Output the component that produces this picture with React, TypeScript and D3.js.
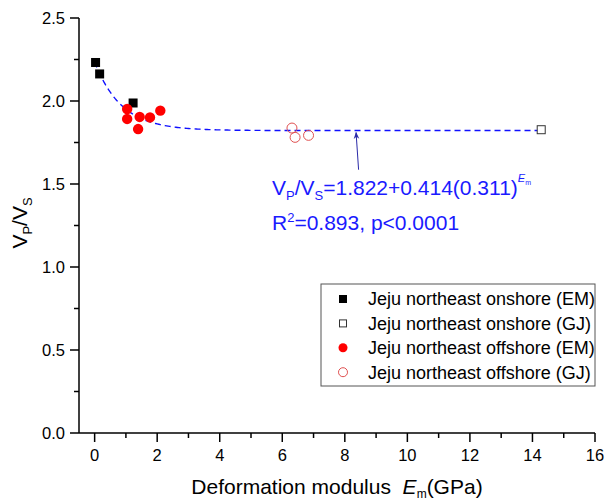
import React from "react";
import * as d3 from "d3";

const onshoreEM = [
  { x: 0.03, y: 2.232 },
  { x: 0.16, y: 2.163 },
  { x: 1.23, y: 1.988 },
];
const onshoreGJ = [{ x: 14.28, y: 1.827 }];
const offshoreEM = [
  { x: 1.04, y: 1.952 },
  { x: 1.04, y: 1.892 },
  { x: 1.44, y: 1.904 },
  { x: 1.39, y: 1.831 },
  { x: 1.77, y: 1.901 },
  { x: 2.1, y: 1.942 },
];
const offshoreGJ = [
  { x: 6.31, y: 1.837 },
  { x: 6.41, y: 1.781 },
  { x: 6.84, y: 1.793 },
];
const fitA = 1.822;
const fitB = 0.414;
const fitC = 0.311;
const fitRange = [0.0, 14.28];
const arrowFrom = { x: 8.44, y: 1.586 };
const arrowTo = { x: 8.36, y: 1.81 };
const xMajor = [0, 2, 4, 6, 8, 10, 12, 14, 16];
const yMajor = [0, 0.5, 1.0, 1.5, 2.0, 2.5];
const legendLabels = [
  "Jeju northeast onshore (EM)",
  "Jeju northeast onshore (GJ)",
  "Jeju northeast offshore (EM)",
  "Jeju northeast offshore (GJ)",
];

const W = 606;
const H = 498;
const left = 79;
const right = 595;
const top = 18;
const bottom = 433;
const FONT = "Arial, 'Liberation Sans', sans-serif";

export default function App() {
  const x = d3.scaleLinear().domain([-0.5, 16]).range([left, right]);
  const y = d3.scaleLinear().domain([0, 2.5]).range([bottom, top]);

  const xMinor = d3.range(0, 16.01, 1).filter((v) => !xMajor.includes(v));
  const yMinor = d3.range(0, 2.51, 0.25).filter((v) => !yMajor.some((m) => Math.abs(m - v) < 1e-6));

  const fitPts = d3.range(fitRange[0], fitRange[1] + 0.001, 0.05).map((v) => ({
    x: v,
    y: fitA + fitB * Math.pow(fitC, v),
  }));
  const line = d3
    .line<{ x: number; y: number }>()
    .x((d) => x(d.x))
    .y((d) => y(d.y));

  const legX = 321;
  const legY = 284;
  const legW = 274;
  const legH = 102;
  const rowY = (i: number) => legY + 15 + i * 24.4;
  const symX = legX + 22;

  return (
    <svg
      width={W}
      height={H}
      style={{ position: "absolute", left: 0, top: 0, background: "#fff" }}
      fontFamily={FONT}
    >
      <rect x={0} y={0} width={W} height={H} fill="#fff" />
      {/* axes */}
      <line x1={left} y1={top} x2={left} y2={bottom} stroke="#000" strokeWidth={1.5} />
      <line x1={left} y1={bottom} x2={right} y2={bottom} stroke="#000" strokeWidth={1.5} />
      {yMajor.map((v) => (
        <g key={"ym" + v}>
          <line x1={left - 9} x2={left} y1={y(v)} y2={y(v)} stroke="#000" strokeWidth={1.5} />
          <text x={left - 14} y={y(v)} dy="0.36em" textAnchor="end" fontSize={16.5}>
            {v.toFixed(1)}
          </text>
        </g>
      ))}
      {yMinor.map((v) => (
        <line key={"yn" + v} x1={left - 5} x2={left} y1={y(v)} y2={y(v)} stroke="#000" strokeWidth={1.5} />
      ))}
      {xMajor.map((v) => (
        <g key={"xm" + v}>
          <line x1={x(v)} x2={x(v)} y1={bottom} y2={bottom + 9} stroke="#000" strokeWidth={1.5} />
          <text x={x(v)} y={bottom + 28} textAnchor="middle" fontSize={16.5}>
            {v}
          </text>
        </g>
      ))}
      {xMinor.map((v) => (
        <line key={"xn" + v} x1={x(v)} x2={x(v)} y1={bottom} y2={bottom + 5} stroke="#000" strokeWidth={1.5} />
      ))}

      {/* axis titles */}
      <text x={(left + right) / 2} y={494} fontSize={21} textAnchor="middle">
        {"Deformation modulus\u00a0\u00a0"}
        <tspan fontStyle="italic">E</tspan>
        <tspan fontSize={12} dy={4}>m</tspan>
        <tspan dy={-4}>(GPa)</tspan>
      </text>
      <text transform={`translate(27,${223}) rotate(-90)`} textAnchor="middle" fontSize={21}>
        V<tspan fontSize={13} dy={5}>P</tspan>
        <tspan dy={-5}>/V</tspan>
        <tspan fontSize={13} dy={5}>S</tspan>
      </text>

      {/* fit curve */}
      <path
        d={line(fitPts) || ""}
        fill="none"
        stroke="#1010ff"
        strokeWidth={1.4}
        strokeDasharray="6,4"
      />

      {/* arrow */}
      <defs>
        <marker id="ah" viewBox="0 0 10 10" refX="9" refY="5" markerWidth="7" markerHeight="9" orient="auto-start-reverse">
          <path d="M0,1 L10,5 L0,9 L3,5 Z" fill="#2a2aa8" />
        </marker>
      </defs>
      <line
        x1={x(arrowFrom.x)}
        y1={y(arrowFrom.y)}
        x2={x(arrowTo.x)}
        y2={y(arrowTo.y)}
        stroke="#2a2aa8"
        strokeWidth={1}
        markerEnd="url(#ah)"
      />

      {/* equation */}
      <text x={272} y={195} fontSize={21} fill="#1a1aff">
        V<tspan fontSize={13} dy={5}>P</tspan>
        <tspan dy={-5}>/V</tspan>
        <tspan fontSize={13} dy={5}>S</tspan>
        <tspan dy={-5}>=1.822+0.414(0.311)</tspan>
        <tspan fontSize={11} dy={-13} fontStyle="italic">E</tspan>
        <tspan fontSize={7} dy={3}>m</tspan>
      </text>
      <text x={272} y={230} fontSize={21} fill="#1a1aff">
        R<tspan fontSize={13} dy={-8}>2</tspan>
        <tspan dy={8}>=0.893, p&lt;0.0001</tspan>
      </text>

      {/* data */}
      {offshoreGJ.map((d, i) => (
        <circle key={"og" + i} cx={x(d.x)} cy={y(d.y)} r={5} fill="none" stroke="#e05050" strokeWidth={1} />
      ))}
      {onshoreGJ.map((d, i) => (
        <rect key={"ng" + i} x={x(d.x) - 4} y={y(d.y) - 4} width={8} height={8} fill="#fff" stroke="#333" strokeWidth={1} />
      ))}
      {onshoreEM.map((d, i) => (
        <rect key={"ne" + i} x={x(d.x) - 4.5} y={y(d.y) - 4.5} width={9} height={9} fill="#000" />
      ))}
      {offshoreEM.map((d, i) => (
        <circle key={"oe" + i} cx={x(d.x)} cy={y(d.y)} r={5.2} fill="#ff0000" />
      ))}

      {/* legend */}
      <rect x={legX} y={legY} width={legW} height={legH} fill="#fff" stroke="#555" strokeWidth={1} />
      <rect x={symX - 4} y={rowY(0) - 4} width={8} height={8} fill="#000" />
      <rect x={symX - 3.5} y={rowY(1) - 3.5} width={7} height={7} fill="#fff" stroke="#333" strokeWidth={1} />
      <circle cx={symX} cy={rowY(2)} r={4.5} fill="#ff0000" />
      <circle cx={symX} cy={rowY(3)} r={4.5} fill="none" stroke="#e05050" strokeWidth={1} />
      {legendLabels.map((t, i) => (
        <text key={t} x={legX + 47} y={rowY(i)} dy="0.36em" fontSize={18}>
          {t}
        </text>
      ))}
    </svg>
  );
}
